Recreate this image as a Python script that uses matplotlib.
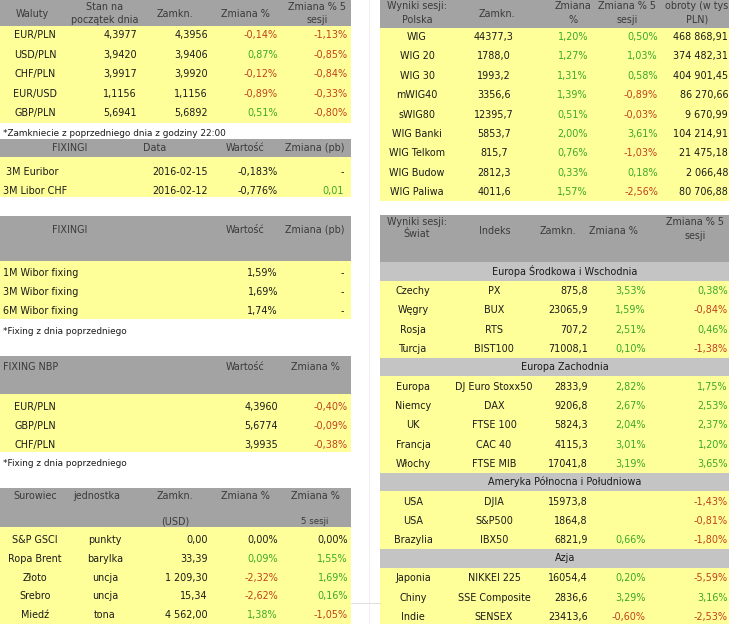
import matplotlib.pyplot as plt
from matplotlib.patches import Rectangle

'''
    Daily market summary tables (PL) drawn as one figure
'''

W, H = 731, 624
YELLOW = '#ffff99'
GRAY = '#a3a3a3'
LIGHT = '#c4c4c4'
RED = '#c0401e'
GREEN = '#3aa829'
TXT = '#1a1a1a'
HDR = '#3a3a3a'
FS = 6.9

# Waluty
fx_pairs = ["EUR/PLN", "USD/PLN", "CHF/PLN", "EUR/USD", "GBP/PLN"]
fx_open = ["4,3977", "3,9420", "3,9917", "1,1156", "5,6941"]
fx_close = ["4,3956", "3,9406", "3,9920", "1,1156", "5,6892"]
fx_chg = [-0.14, 0.87, -0.12, -0.89, 0.51]
fx_chg5 = [-1.13, -0.85, -0.84, -0.33, -0.80]

# Fixingi (Euribor / Libor)
fix_names = [" 3M Euribor", "3M Libor CHF"]
fix_dates = ["2016-02-15", "2016-02-12"]
fix_vals = [-0.183, -0.776]
fix_chg = [None, 0.01]

# Wibor
wibor_names = ["1M Wibor fixing", "3M Wibor fixing", "6M Wibor fixing"]
wibor_vals = [1.59, 1.69, 1.74]

# Fixing NBP
nbp_pairs = ["EUR/PLN", "GBP/PLN", "CHF/PLN"]
nbp_vals = ["4,3960", "5,6774", "3,9935"]
nbp_chg = [-0.40, -0.09, -0.38]

# Surowce
com_names = ["S&P GSCI", "Ropa Brent", "Złoto", "Srebro", "Miedź"]
com_units = ["punkty", "barylka", "uncja", "uncja", "tona"]
com_close = ["0,00", "33,39", "1 209,30", "15,34", "4 562,00"]
com_chg = [0.00, 0.09, -2.32, -2.62, 1.38]
com_chg5 = [0.00, 1.55, 1.69, 0.16, -1.05]

# Wyniki sesji: Polska
pl_names = ["WIG", "WIG 20", "WIG 30", "mWIG40", "sWIG80", "WIG Banki",
            "WIG Telkom", "WIG Budow", "WIG Paliwa"]
pl_close = ["44377,3", "1788,0", "1993,2", "3356,6", "12395,7", "5853,7",
            "815,7", "2812,3", "4011,6"]
pl_chg = [1.20, 1.27, 1.31, 1.39, 0.51, 2.00, 0.76, 0.33, 1.57]
pl_chg5 = [0.50, 1.03, 0.58, -0.89, -0.03, 3.61, -1.03, 0.18, -2.56]
pl_turnover = ["468 868,91", "374 482,31", "404 901,45", "86 270,66", "9 670,99",
               "104 214,91", "21 475,18", "2 066,48", "80 706,88"]

# Wyniki sesji: Świat
world_regions = ["Europa Środkowa i Wschodnia", "Europa Zachodnia",
                 "Ameryka Północna i Południowa", "Azja"]
world_countries = [["Czechy", "Węgry", "Rosja", "Turcja"],
                   ["Europa", "Niemcy", "UK", "Francja", "Włochy"],
                   ["USA", "USA", "Brazylia"],
                   ["Japonia", "Chiny", "Indie"]]
world_index = [["PX", "BUX", "RTS", "BIST100"],
               ["DJ Euro Stoxx50", "DAX", "FTSE 100", "CAC 40", "FTSE MIB"],
               ["DJIA", "S&P500", "IBX50"],
               ["NIKKEI 225", "SSE Composite", "SENSEX"]]
world_close = [["875,8", "23065,9", "707,2", "71008,1"],
               ["2833,9", "9206,8", "5824,3", "4115,3", "17041,8"],
               ["15973,8", "1864,8", "6821,9"],
               ["16054,4", "2836,6", "23413,6"]]
world_chg = [[3.53, 1.59, 2.51, 0.10],
             [2.82, 2.67, 2.04, 3.01, 3.19],
             [None, None, 0.66],
             [0.20, 3.29, -0.60]]
world_chg5 = [[0.38, -0.84, 0.46, -1.38],
              [1.75, 2.53, 2.37, 1.20, 3.65],
              [-1.43, -0.81, -1.80],
              [-5.59, 3.16, -2.53]]


def pct(v, nd=2):
    return f"{v:.{nd}f}%".replace('.', ',')


def pcol(v):
    if v > 0:
        return GREEN
    if v < 0:
        return RED
    return TXT


fig = plt.figure(figsize=(W / 100, H / 100), dpi=100)
ax = fig.add_axes([0, 0, 1, 1])
ax.set_xlim(0, W)
ax.set_ylim(H, 0)
ax.axis('off')


def box(x0, x1, y0, y1, c):
    ax.add_patch(Rectangle((x0, y0), x1 - x0, y1 - y0, facecolor=c, edgecolor='none'))


def txt(x, y, s, ha='center', color=TXT, size=FS):
    ax.text(x, y, s, ha=ha, va='center', color=color, fontsize=size)


# faint excel gridlines between the panels
ax.plot([369, 369], [0, H], color='#efefef', lw=0.7)
ax.plot([351, 380], [603, 603], color='#e0e0e0', lw=0.7)

L0, L1 = 0, 351
R0, R1 = 380, 729

# ---- Waluty
box(L0, L1, 0, 26, GRAY)
box(L0, L1, 26, 123, YELLOW)
txt(32, 14, "Waluty", color=HDR)
txt(105, 7, "Stan na", color=HDR)
txt(105, 20, "początek dnia", color=HDR)
txt(175, 14, "Zamkn.", color=HDR)
txt(245, 14, "Zmiana %", color=HDR)
txt(317, 7, "Zmiana % 5", color=HDR)
txt(317, 20, "sesji", color=HDR)
for i in range(len(fx_pairs)):
    y = 35 + 19.6 * i
    txt(35, y, fx_pairs[i])
    txt(137, y, fx_open[i], ha='right')
    txt(208, y, fx_close[i], ha='right')
    txt(278, y, pct(fx_chg[i]), ha='right', color=pcol(fx_chg[i]))
    txt(348, y, pct(fx_chg5[i]), ha='right', color=pcol(fx_chg5[i]))
txt(3, 133, "*Zamkniecie z poprzedniego dnia z godziny 22:00", ha='left', size=6.4)

# ---- Fixingi Euribor / Libor
box(L0, L1, 139, 157, GRAY)
box(L0, L1, 157, 197, YELLOW)
txt(70, 148, "FIXINGI", color=HDR)
txt(155, 148, "Data", color=HDR)
txt(245, 148, "Wartość", color=HDR)
txt(315, 148, "Zmiana (pb)", color=HDR)
for i in range(len(fix_names)):
    y = 172 + 19.3 * i
    txt(3, y, fix_names[i], ha='left')
    txt(208, y, fix_dates[i], ha='right')
    txt(278, y, pct(fix_vals[i], 3), ha='right')
    if fix_chg[i] is None:
        txt(344, y, "-", ha='right')
    else:
        txt(344, y, f"{fix_chg[i]:.2f}".replace('.', ','), ha='right', color=pcol(fix_chg[i]))

# ---- Wibor
box(L0, L1, 216, 261, GRAY)
box(L0, L1, 261, 319, YELLOW)
txt(70, 230, "FIXINGI", color=HDR)
txt(245, 230, "Wartość", color=HDR)
txt(315, 230, "Zmiana (pb)", color=HDR)
for i in range(len(wibor_names)):
    y = 273 + 19 * i
    txt(3, y, wibor_names[i], ha='left')
    txt(278, y, pct(wibor_vals[i]), ha='right')
    txt(344, y, "-", ha='right')
txt(3, 332, "*Fixing z dnia poprzedniego", ha='left', size=6.4)

# ---- Fixing NBP
box(L0, L1, 356, 394, GRAY)
box(L0, L1, 394, 452, YELLOW)
txt(3, 367, "FIXING NBP", ha='left', color=HDR)
txt(245, 367, "Wartość", color=HDR)
txt(315, 367, "Zmiana %", color=HDR)
for i in range(len(nbp_pairs)):
    y = 407 + 19 * i
    txt(35, y, nbp_pairs[i])
    txt(278, y, nbp_vals[i], ha='right')
    txt(348, y, pct(nbp_chg[i]), ha='right', color=pcol(nbp_chg[i]))
txt(3, 464, "*Fixing z dnia poprzedniego", ha='left', size=6.4)

# ---- Surowce
box(L0, L1, 488, 527, GRAY)
box(L0, L1, 527, H, YELLOW)
txt(35, 496, "Surowiec", color=HDR)
txt(97, 496, "jednostka", color=HDR)
txt(175, 496, "Zamkn.", color=HDR)
txt(175, 521, "(USD)", color=HDR)
txt(245, 496, "Zmiana %", color=HDR)
txt(315, 496, "Zmiana %", color=HDR)
txt(315, 521, "5 sesji", color=HDR, size=6.2)
for i in range(len(com_names)):
    y = 540 + 18.8 * i
    txt(35, y, com_names[i])
    txt(105, y, com_units[i])
    txt(208, y, com_close[i], ha='right')
    txt(278, y, pct(com_chg[i]), ha='right', color=pcol(com_chg[i]))
    txt(348, y, pct(com_chg5[i]), ha='right', color=pcol(com_chg5[i]))

# ---- Wyniki sesji: Polska
box(R0, R1, 0, 28, GRAY)
box(R0, R1, 28, 201, YELLOW)
txt(417, 6, "Wyniki sesji:", color=HDR)
txt(417, 20, "Polska", color=HDR)
txt(497, 14, "Zamkn.", color=HDR)
txt(573, 6, "Zmiana", color=HDR)
txt(573, 20, "%", color=HDR)
txt(627, 6, "Zmiana % 5", color=HDR)
txt(627, 20, "sesji", color=HDR)
txt(697, 6, "obroty (w tys", color=HDR)
txt(697, 20, "PLN)", color=HDR)
for i in range(len(pl_names)):
    y = 37 + 19.4 * i
    txt(417, y, pl_names[i])
    txt(494, y, pl_close[i])
    txt(588, y, pct(pl_chg[i]), ha='right', color=pcol(pl_chg[i]))
    txt(658, y, pct(pl_chg5[i]), ha='right', color=pcol(pl_chg5[i]))
    txt(728, y, pl_turnover[i], ha='right')

# ---- Wyniki sesji: Świat
box(R0, R1, 215, 262, GRAY)
txt(417, 222, "Wyniki sesji:", color=HDR)
txt(417, 234, "Świat", color=HDR)
txt(495, 231, "Indeks", color=HDR)
txt(558, 231, "Zamkn.", color=HDR)
txt(613, 231, "Zmiana %", color=HDR)
txt(695, 222, "Zmiana % 5", color=HDR)
txt(695, 236, "sesji", color=HDR)

y0 = 262
sub_h, row_h = 18.5, 19.3
for r, region in enumerate(world_regions):
    box(R0, R1, y0, y0 + sub_h, LIGHT)
    txt(565, y0 + sub_h / 2, region)
    y0 += sub_h
    n = len(world_countries[r])
    box(R0, R1, y0, y0 + n * row_h, YELLOW)
    for i in range(n):
        y = y0 + row_h * i + row_h / 2 + 1
        txt(413, y, world_countries[r][i])
        txt(494, y, world_index[r][i])
        txt(588, y, world_close[r][i], ha='right')
        c = world_chg[r][i]
        if c is not None:
            txt(646, y, pct(c), ha='right', color=pcol(c))
        c5 = world_chg5[r][i]
        txt(728, y, pct(c5), ha='right', color=pcol(c5))
    y0 += n * row_h

fig.savefig("out.png", dpi=100)
